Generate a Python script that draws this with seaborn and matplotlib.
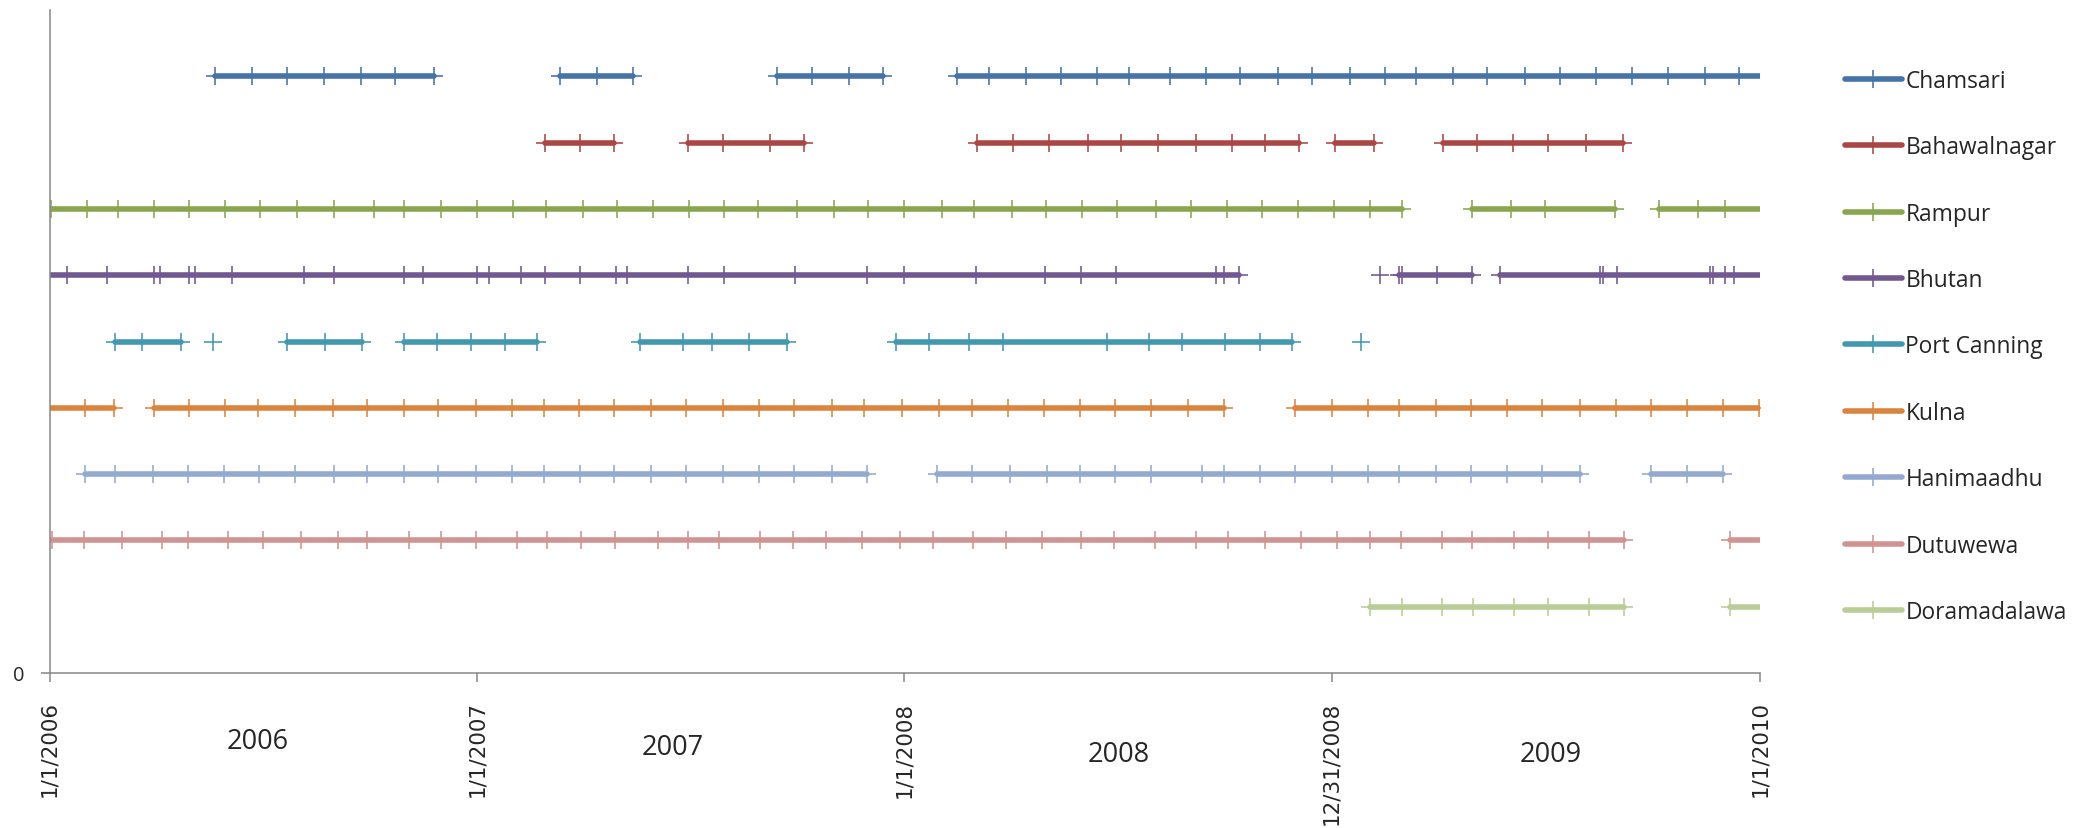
import pandas as pd
import matplotlib
matplotlib.use('Agg')
import matplotlib.pyplot as plt
import matplotlib.dates as mdates
from matplotlib.lines import Line2D
import seaborn as sns

sites = ['Chamsari', 'Bahawalnagar', 'Rampur', 'Bhutan', 'Port Canning',
         'Kulna', 'Hanimaadhu', 'Dutuwewa', 'Doramadalawa']
levels = [9, 8, 7, 6, 5, 4, 3, 2, 1]
colors = ['#4572A7', '#AA4643', '#89A54E', '#71588F', '#4198AF',
          '#DB843D', '#93A9CF', '#D19392', '#B9CD96']

# observation dates per site, one inner list per unbroken run
chamsari = [
    ['2006-05-22', '2006-06-23', '2006-07-23', '2006-08-23', '2006-09-24', '2006-10-23', '2006-11-25'],
    ['2007-03-13', '2007-04-14', '2007-05-14'],
    ['2007-09-14', '2007-10-14', '2007-11-15', '2007-12-14'],
    ['2008-02-15', '2008-03-13', '2008-04-14', '2008-05-14', '2008-06-14', '2008-07-11', '2008-08-15',
     '2008-09-15', '2008-10-14', '2008-11-15', '2008-12-14', '2009-01-16', '2009-02-15', '2009-03-13',
     '2009-04-14', '2009-05-13', '2009-06-14', '2009-07-14', '2009-08-14', '2009-09-14', '2009-10-14',
     '2009-11-15', '2009-12-14', '2010-01-14'],
]
bahawalnagar = [
    ['2007-02-28', '2007-03-30', '2007-04-28'],
    ['2007-06-30', '2007-07-30', '2007-09-08', '2007-10-07'],
    ['2008-03-03', '2008-04-03', '2008-05-04', '2008-06-06', '2008-07-04', '2008-08-05', '2008-09-06',
     '2008-10-07', '2008-11-04', '2008-12-03'],
    ['2009-01-03', '2009-02-05'],
    ['2009-04-05', '2009-05-04', '2009-06-04', '2009-07-04', '2009-08-05', '2009-09-06'],
]
rampur = [
    ['2006-01-02', '2006-02-02', '2006-02-28', '2006-03-31', '2006-04-30', '2006-05-31', '2006-06-30',
     '2006-07-31', '2006-09-01', '2006-10-05', '2006-10-31', '2006-12-01', '2007-01-01', '2007-02-01',
     '2007-03-01', '2007-04-02', '2007-05-01', '2007-05-31', '2007-07-01', '2007-07-31', '2007-08-29',
     '2007-10-01', '2007-11-02', '2007-12-01', '2008-01-01', '2008-02-02', '2008-03-01', '2008-04-02',
     '2008-05-01', '2008-06-01', '2008-07-01', '2008-08-03', '2008-09-02', '2008-10-03', '2008-11-02',
     '2008-12-02', '2009-01-02', '2009-02-02', '2009-03-01'],
    ['2009-04-30', '2009-06-02', '2009-07-01', '2009-08-30'],
    ['2009-10-07', '2009-11-09', '2009-12-02', '2010-01-20'],
]
bhutan = [
    ['2005-12-15', '2006-01-16', '2006-02-19', '2006-03-31', '2006-04-05', '2006-04-30', '2006-05-05',
     '2006-06-06', '2006-08-06', '2006-09-01', '2006-10-31', '2006-11-16', '2007-01-01', '2007-01-11',
     '2007-02-08', '2007-02-28', '2007-03-30', '2007-04-30', '2007-05-09', '2007-06-30', '2007-07-31',
     '2007-09-30', '2007-11-30', '2008-01-01', '2008-03-02', '2008-04-30', '2008-05-31', '2008-06-30',
     '2008-09-23', '2008-09-30', '2008-10-13'],
    ['2009-02-10'],
    ['2009-02-27', '2009-03-01', '2009-03-31', '2009-04-30'],
    ['2009-05-24', '2009-08-17', '2009-08-20', '2009-09-01', '2009-11-19', '2009-11-22', '2009-12-02',
     '2009-12-10', '2010-01-20'],
]
port_canning = [
    ['2006-02-26', '2006-03-21', '2006-04-23'],
    ['2006-05-21'],
    ['2006-07-23', '2006-08-24', '2006-09-25'],
    ['2006-10-31', '2006-11-28', '2006-12-27', '2007-01-25', '2007-02-21'],
    ['2007-05-20', '2007-06-26', '2007-07-21', '2007-08-21', '2007-09-23'],
    ['2007-12-25', '2008-01-22', '2008-02-25', '2008-03-25', '2008-06-22', '2008-07-28', '2008-08-25',
     '2008-10-01', '2008-10-31', '2008-11-27'],
    ['2009-01-25'],
]
kulna = [
    ['2005-12-15', '2006-01-31', '2006-02-25'],
    ['2006-03-31', '2006-04-30', '2006-05-31', '2006-06-28', '2006-07-30', '2006-08-31', '2006-09-29',
     '2006-10-31', '2006-11-29', '2006-12-31', '2007-01-31', '2007-02-27', '2007-03-29', '2007-04-28',
     '2007-05-30', '2007-06-29', '2007-07-30', '2007-08-30', '2007-09-29', '2007-10-31', '2007-11-28',
     '2007-12-30', '2008-01-31', '2008-02-28', '2008-03-30', '2008-04-29', '2008-05-30', '2008-06-29',
     '2008-07-30', '2008-08-30', '2008-09-30'],
    ['2008-11-30', '2008-12-31', '2009-01-31', '2009-02-27', '2009-03-30', '2009-04-29', '2009-05-30',
     '2009-06-29', '2009-07-31', '2009-08-31', '2009-09-30', '2009-10-31', '2009-11-30', '2009-12-31'],
]
hanimaadhu = [
    ['2006-01-31', '2006-02-26', '2006-03-30', '2006-04-29', '2006-05-30', '2006-06-29', '2006-07-30',
     '2006-09-01', '2006-09-29', '2006-10-31', '2006-11-29', '2006-12-31', '2007-01-31', '2007-02-27',
     '2007-03-30', '2007-04-28', '2007-05-30', '2007-06-29', '2007-07-30', '2007-08-30', '2007-09-29',
     '2007-10-31', '2007-11-30'],
    ['2008-01-29', '2008-02-28', '2008-03-31', '2008-05-02', '2008-05-30', '2008-06-29', '2008-07-30',
     '2008-09-11', '2008-09-30', '2008-10-31', '2008-11-30', '2008-12-31', '2009-01-31', '2009-02-27',
     '2009-03-30', '2009-04-29', '2009-05-30', '2009-06-29', '2009-07-31'],
    ['2009-09-30', '2009-10-31', '2009-11-30'],
]
dutuwewa = [
    ['2006-01-03', '2006-01-30', '2006-03-04', '2006-04-07', '2006-04-29', '2006-06-02', '2006-07-02',
     '2006-08-04', '2006-09-04', '2006-09-29', '2006-11-04', '2006-12-01', '2006-12-31', '2007-02-04',
     '2007-03-02', '2007-03-31', '2007-04-29', '2007-06-05', '2007-06-30', '2007-07-27', '2007-08-31',
     '2007-09-28', '2007-10-26', '2007-11-26', '2007-12-28', '2008-01-26', '2008-02-29', '2008-03-28',
     '2008-04-28', '2008-05-31', '2008-06-28', '2008-08-02', '2008-09-06', '2008-10-04', '2008-11-04',
     '2008-12-05', '2009-01-05', '2009-02-02', '2009-02-28', '2009-04-04', '2009-04-30', '2009-06-05',
     '2009-07-04', '2009-08-08', '2009-09-07'],
    ['2009-12-06', '2010-01-14'],
]
doramadalawa = [
    ['2009-02-02', '2009-03-01', '2009-04-04', '2009-05-01', '2009-06-05', '2009-07-04', '2009-08-08',
     '2009-09-07'],
    ['2009-12-06', '2010-01-14'],
]

tick_dates = ['2006-01-01', '2007-01-01', '2008-01-01', '2008-12-31', '2010-01-01']
tick_labels = ['1/1/2006', '1/1/2007', '1/1/2008', '12/31/2008', '1/1/2010']
year_labels = ['2006', '2007', '2008', '2009']

# long table: one row per observation, a run id keeps the gaps open
runs = dict(zip(sites, [chamsari, bahawalnagar, rampur, bhutan, port_canning,
                        kulna, hanimaadhu, dutuwewa, doramadalawa]))
rows = []
for site, level in zip(sites, levels):
    for i, run in enumerate(runs[site]):
        for d in run:
            rows.append({'site': site, 'date': pd.Timestamp(d), 'level': level,
                         'run': f'{site}-{i}'})
df = pd.DataFrame(rows)

sns.set_theme(style='white')
plt.rcParams['font.family'] = ['Open Sans', 'DejaVu Sans']

W, H = 2074, 829
fig = plt.figure(figsize=(W / 100, H / 100), dpi=100)
ax = fig.add_axes([49.6 / W, 1 - 674 / H, 1710.4 / W, 663 / H])

palette = dict(zip(sites, colors))
line_kw = dict(marker='+', markersize=13, mew=1.15, linewidth=4.0, solid_capstyle='round')
sns.lineplot(data=df, x='date', y='level', hue='site', units='run', estimator=None,
             palette=palette, legend=False, ax=ax, **line_kw)
for line in ax.lines:
    line.set_markeredgecolor(line.get_color())

ax.set_xlim(pd.Timestamp('2006-01-01'), pd.Timestamp('2010-01-01'))
ax.set_ylim(0, 10)
ax.set_xticks(mdates.date2num(pd.to_datetime(tick_dates)))
ax.set_xticklabels(tick_labels, rotation=90, fontfamily='DejaVu Sans', fontsize=15.4)
ax.xaxis.set_minor_locator(matplotlib.ticker.NullLocator())
ax.set_yticks([0])
ax.set_yticklabels(['0'], fontsize=14.4)
ax.set_xlabel('')
ax.set_ylabel('')

axis_grey = '#868686'
ax.tick_params(axis='both', direction='out', length=6.3, width=1.1, color=axis_grey,
               bottom=True, left=True)
ax.tick_params(axis='x', pad=13.5)
ax.tick_params(axis='y', pad=12)
sns.despine(ax=ax)
for side in ['left', 'bottom']:
    ax.spines[side].set_color(axis_grey)
    ax.spines[side].set_linewidth(1.1)

# year captions under the axis
year_pos = [(258, 742), (673, 748), (1119, 755), (1551, 755)]
for label, (px, py) in zip(year_labels, year_pos):
    fig.text(px / W, 1 - py / H, label, ha='center', va='center', fontsize=19.5)

handles = [Line2D([0], [0], color=c, **line_kw) for c in colors]
fig.legend(handles, sites, loc='upper left', bbox_to_anchor=(1845 / W, 1 - 70 / H),
           frameon=False, fontsize=16.4, handlelength=2.5, handletextpad=0.15,
           labelspacing=1.86, borderpad=0, borderaxespad=0, numpoints=1)

fig.savefig('out.png', dpi=100)
